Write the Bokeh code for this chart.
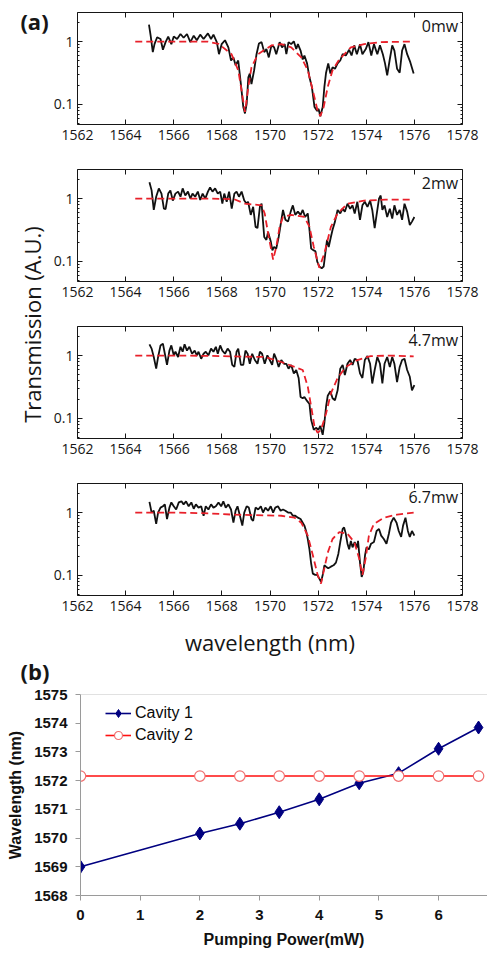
import math
from bokeh.plotting import figure
from bokeh.layouts import column, row
from bokeh.models import (Range1d, Label, LinearAxis, LogAxis, FixedTicker,
                          Legend, LegendItem, Span, CustomJSTickFormatter)
from bokeh.embed import file_html
from bokeh.resources import INLINE

# ---------------- panel (a): transmission spectra ----------------
wl_0mw = [1564.97, 1565.04, 1565.13, 1565.2, 1565.31, 1565.45, 1565.55, 1565.66, 1565.77, 1565.9,
          1566.0, 1566.14, 1566.28, 1566.41, 1566.55, 1566.69, 1566.83, 1566.96, 1567.1, 1567.24,
          1567.42, 1567.55, 1567.65, 1567.79, 1567.88, 1567.99, 1568.13, 1568.27, 1568.38, 1568.48,
          1568.57, 1568.68, 1568.79, 1568.89, 1568.96, 1569.03, 1569.1, 1569.16, 1569.23, 1569.34,
          1569.44, 1569.54, 1569.65, 1569.76, 1569.85, 1569.95, 1570.06, 1570.17, 1570.26, 1570.4,
          1570.5, 1570.61, 1570.68, 1570.77, 1570.88, 1570.99, 1571.09, 1571.16, 1571.27, 1571.36,
          1571.43, 1571.54, 1571.64, 1571.74, 1571.85, 1571.96, 1572.02, 1572.09, 1572.19, 1572.26,
          1572.33, 1572.42, 1572.51, 1572.6, 1572.7, 1572.81, 1572.92, 1573.02, 1573.15, 1573.29,
          1573.39, 1573.5, 1573.61, 1573.74, 1573.84, 1573.98, 1574.09, 1574.21, 1574.32, 1574.46,
          1574.57, 1574.69, 1574.78, 1574.87, 1574.97, 1575.08, 1575.17, 1575.28, 1575.39, 1575.49,
          1575.59, 1575.7, 1575.83, 1575.97]
tr_0mw = [1.86, 1.24, 0.68, 0.91, 1.17, 1.10, 0.74, 0.98, 1.20, 0.91,
          1.20, 1.10, 1.32, 1.15, 1.32, 0.98, 1.24, 1.05, 1.29, 1.10,
          1.35, 1.10, 1.29, 0.98, 0.63, 0.91, 1.05, 0.81, 0.50, 0.56,
          0.42, 0.50, 0.21, 0.091, 0.072, 0.102, 0.27, 0.31, 0.21, 0.35,
          0.63, 0.93, 0.98, 0.68, 0.76, 0.56, 0.87, 0.81, 0.63, 0.98,
          0.81, 0.91, 0.63, 0.98, 0.91, 1.01, 0.76, 0.91, 0.72, 0.52,
          0.60, 0.45, 0.27, 0.19, 0.091, 0.079, 0.085, 0.065, 0.091, 0.19,
          0.32, 0.45, 0.31, 0.39, 0.37, 0.45, 0.50, 0.63, 0.60, 0.74,
          0.60, 0.87, 0.63, 0.91, 0.63, 0.76, 0.98, 0.60, 0.91, 0.63,
          0.87, 0.63, 0.45, 0.29, 0.50, 0.87, 0.72, 0.37, 0.32, 0.72,
          0.91, 0.63, 0.47, 0.31]
fit_wl_0mw = [1564.4, 1565.5, 1566.5, 1567.4, 1567.86, 1568.4, 1568.68, 1568.82, 1568.96, 1569.1,
              1569.23, 1569.5, 1570.06, 1570.47, 1570.88, 1571.3, 1571.57, 1571.78, 1571.98, 1572.09,
              1572.23, 1572.4, 1572.6, 1572.88, 1573.36, 1573.91, 1574.6, 1575.83]
fit_tr_0mw = [1.0, 1.0, 1.0, 1.0, 0.92, 0.63, 0.35, 0.166, 0.076, 0.19,
              0.39, 0.63, 0.87, 0.91, 0.81, 0.56, 0.35, 0.166, 0.079, 0.065,
              0.091, 0.19, 0.35, 0.52, 0.81, 0.91, 0.98, 1.0]

wl_2mw = [1564.99, 1565.08, 1565.17, 1565.27, 1565.38, 1565.49, 1565.59, 1565.66, 1565.77, 1565.86,
          1565.96, 1566.07, 1566.18, 1566.28, 1566.37, 1566.48, 1566.59, 1566.69, 1566.78, 1566.89,
          1567.0, 1567.1, 1567.2, 1567.31, 1567.42, 1567.51, 1567.61, 1567.72, 1567.83, 1567.93,
          1568.02, 1568.1, 1568.2, 1568.3, 1568.41, 1568.52, 1568.61, 1568.71, 1568.82, 1568.93,
          1569.03, 1569.09, 1569.2, 1569.3, 1569.4, 1569.48, 1569.58, 1569.65, 1569.76, 1569.85,
          1569.92, 1570.03, 1570.1, 1570.17, 1570.26, 1570.36, 1570.44, 1570.54, 1570.64, 1570.75,
          1570.86, 1570.95, 1571.05, 1571.16, 1571.27, 1571.36, 1571.46, 1571.57, 1571.64, 1571.71,
          1571.82, 1571.89, 1571.96, 1572.05, 1572.15, 1572.23, 1572.3, 1572.37, 1572.44, 1572.53,
          1572.6, 1572.7, 1572.81, 1572.92, 1573.02, 1573.11, 1573.22, 1573.33, 1573.43, 1573.52,
          1573.63, 1573.74, 1573.84, 1573.94, 1574.05, 1574.16, 1574.25, 1574.35, 1574.43, 1574.53,
          1574.6, 1574.67, 1574.76, 1574.87, 1574.98, 1575.08, 1575.17, 1575.28, 1575.39, 1575.49,
          1575.59, 1575.7, 1575.81, 1575.9, 1576.0]
tr_2mw = [1.82, 1.35, 0.66, 1.07, 1.45, 1.20, 0.69, 0.68, 1.20, 1.35,
          0.93, 1.20, 1.29, 1.07, 1.45, 1.12, 1.29, 1.00, 1.20, 1.07,
          1.29, 0.95, 1.20, 1.00, 1.29, 1.51, 1.29, 1.45, 1.20, 1.29,
          0.83, 1.20, 0.89, 1.29, 0.69, 1.20, 1.29, 1.07, 1.29, 0.93,
          0.83, 0.89, 0.55, 0.74, 0.355, 0.34, 0.74, 0.83, 0.245, 0.22,
          0.295, 0.21, 0.15, 0.17, 0.16, 0.245, 0.38, 0.66, 0.46, 0.43,
          0.62, 0.78, 0.55, 0.62, 0.55, 0.66, 0.51, 0.58, 0.32, 0.16,
          0.15, 0.145, 0.10, 0.083, 0.078, 0.083, 0.135, 0.22, 0.17, 0.245,
          0.32, 0.43, 0.66, 0.58, 0.69, 0.62, 0.83, 0.69, 0.78, 0.58,
          0.89, 0.46, 0.78, 0.89, 0.74, 0.93, 0.66, 0.34, 0.55, 1.00,
          1.12, 0.66, 0.78, 0.51, 0.69, 0.48, 0.78, 0.55, 0.66, 0.46,
          0.83, 0.62, 0.38, 0.43, 0.51]
fit_wl_2mw = [1564.4, 1565.5, 1566.5, 1567.5, 1568.5, 1568.96, 1569.65, 1569.78, 1569.92, 1570.13,
              1570.26, 1570.4, 1570.54, 1570.88, 1571.43, 1571.64, 1571.82, 1572.05, 1572.26, 1572.53,
              1572.81, 1573.22, 1573.91, 1574.8, 1575.9]
fit_tr_2mw = [1.0, 1.0, 1.0, 1.0, 0.98, 0.83, 0.78, 0.58, 0.28, 0.107,
              0.17, 0.355, 0.51, 0.55, 0.51, 0.355, 0.17, 0.079, 0.135, 0.355,
              0.58, 0.83, 0.93, 0.96, 0.96]

wl_4p7mw = [1564.99, 1565.08, 1565.17, 1565.27, 1565.35, 1565.45, 1565.55, 1565.63, 1565.72, 1565.82,
            1565.9, 1566.0, 1566.07, 1566.18, 1566.28, 1566.37, 1566.45, 1566.55, 1566.65, 1566.76,
            1566.87, 1566.96, 1567.03, 1567.14, 1567.24, 1567.33, 1567.44, 1567.55, 1567.65, 1567.75,
            1567.83, 1567.93, 1568.02, 1568.13, 1568.24, 1568.34, 1568.43, 1568.52, 1568.61, 1568.68,
            1568.79, 1568.89, 1568.98, 1569.07, 1569.16, 1569.26, 1569.37, 1569.48, 1569.58, 1569.67,
            1569.78, 1569.89, 1569.99, 1570.09, 1570.17, 1570.26, 1570.36, 1570.47, 1570.58, 1570.68,
            1570.77, 1570.88, 1570.99, 1571.09, 1571.19, 1571.27, 1571.36, 1571.43, 1571.54, 1571.64,
            1571.71, 1571.82, 1571.91, 1572.01, 1572.09, 1572.19, 1572.26, 1572.33, 1572.4, 1572.51,
            1572.6, 1572.7, 1572.81, 1572.92, 1573.02, 1573.11, 1573.22, 1573.33, 1573.43, 1573.52,
            1573.63, 1573.74, 1573.84, 1573.94, 1574.05, 1574.16, 1574.25, 1574.35, 1574.46, 1574.57,
            1574.67, 1574.76, 1574.87, 1574.98, 1575.08, 1575.17, 1575.28, 1575.39, 1575.49, 1575.59,
            1575.7, 1575.81, 1575.9, 1576.0]
tr_4p7mw = [1.51, 1.29, 0.95, 0.62, 0.95, 1.45, 1.55, 1.07, 0.71, 1.20,
            1.45, 1.01, 1.15, 0.95, 1.38, 1.15, 1.51, 1.20, 1.38, 1.07,
            1.20, 1.01, 1.15, 0.89, 1.07, 1.15, 1.01, 1.29, 1.15, 1.38,
            1.07, 1.45, 1.20, 1.07, 1.29, 1.15, 0.71, 0.66, 1.15, 1.29,
            0.71, 0.71, 1.20, 1.07, 0.74, 1.07, 0.85, 0.74, 1.15, 1.07,
            0.74, 1.01, 0.85, 0.71, 1.07, 0.89, 0.66, 0.85, 0.74, 0.74,
            0.62, 0.71, 0.52, 0.59, 0.44, 0.22, 0.21, 0.22, 0.19, 0.17,
            0.095, 0.066, 0.071, 0.066, 0.076, 0.055, 0.085, 0.155, 0.23, 0.27,
            0.21, 0.195, 0.28, 0.62, 0.71, 0.49, 0.74, 0.85, 0.71, 0.89,
            0.85, 0.52, 0.44, 0.85, 0.98, 0.74, 0.36, 0.59, 0.95, 0.74,
            0.36, 0.74, 0.95, 0.66, 0.95, 0.74, 0.38, 0.66, 0.85, 0.89,
            0.59, 0.46, 0.28, 0.34]
fit_wl_4p7mw = [1564.4, 1566.0, 1567.5, 1568.4, 1569.78, 1570.47, 1571.02, 1571.36, 1571.57, 1571.71,
                1571.85, 1571.98, 1572.12, 1572.33, 1572.53, 1572.81, 1573.15, 1573.63, 1574.18, 1575.0,
                1575.97]
fit_tr_4p7mw = [1.0, 1.0, 0.99, 0.97, 0.95, 0.79, 0.66, 0.59, 0.32, 0.155,
                0.074, 0.059, 0.066, 0.12, 0.25, 0.44, 0.66, 0.85, 0.98, 1.0,
                0.97]

wl_6p7mw = [1564.99, 1565.08, 1565.17, 1565.27, 1565.35, 1565.45, 1565.55, 1565.63, 1565.72, 1565.82,
            1565.9, 1566.0, 1566.1, 1566.21, 1566.32, 1566.41, 1566.51, 1566.62, 1566.73, 1566.83,
            1566.92, 1567.03, 1567.14, 1567.24, 1567.33, 1567.44, 1567.55, 1567.65, 1567.75, 1567.86,
            1567.97, 1568.06, 1568.16, 1568.27, 1568.38, 1568.48, 1568.57, 1568.65, 1568.75, 1568.85,
            1568.93, 1569.03, 1569.12, 1569.23, 1569.3, 1569.4, 1569.51, 1569.62, 1569.71, 1569.81,
            1569.92, 1570.03, 1570.13, 1570.22, 1570.33, 1570.44, 1570.54, 1570.64, 1570.75, 1570.86,
            1570.95, 1571.05, 1571.16, 1571.27, 1571.36, 1571.43, 1571.5, 1571.57, 1571.64, 1571.71,
            1571.78, 1571.88, 1571.96, 1572.05, 1572.12, 1572.19, 1572.26, 1572.33, 1572.42, 1572.53,
            1572.64, 1572.74, 1572.84, 1572.92, 1573.02, 1573.08, 1573.15, 1573.22, 1573.29, 1573.36,
            1573.43, 1573.52, 1573.61, 1573.66, 1573.74, 1573.81, 1573.88, 1573.95, 1574.01, 1574.11,
            1574.2, 1574.32, 1574.43, 1574.53, 1574.62, 1574.73, 1574.84, 1574.94, 1575.03, 1575.14,
            1575.26, 1575.35, 1575.45, 1575.53, 1575.63, 1575.73, 1575.81, 1575.9, 1576.0]
tr_6p7mw = [1.48, 1.00, 1.07, 0.66, 1.00, 1.20, 1.26, 1.35, 0.79, 1.20,
            1.45, 1.26, 1.12, 1.45, 1.51, 1.35, 1.51, 1.26, 1.45, 1.15,
            1.35, 1.20, 1.26, 0.89, 1.26, 1.12, 1.35, 1.20, 1.26, 1.45,
            1.26, 1.51, 1.20, 1.35, 1.12, 0.69, 1.07, 1.26, 0.89, 0.62,
            1.00, 1.26, 1.20, 0.79, 0.74, 1.20, 1.12, 1.26, 1.00, 1.20,
            1.07, 1.26, 1.00, 1.20, 1.26, 1.07, 1.12, 1.07, 1.00, 1.00,
            0.89, 0.89, 0.83, 0.79, 0.69, 0.62, 0.51, 0.38, 0.26, 0.155,
            0.107, 0.102, 0.102, 0.089, 0.079, 0.102, 0.145, 0.138, 0.13, 0.138,
            0.145, 0.16, 0.22, 0.34, 0.55, 0.58, 0.46, 0.32, 0.26, 0.355,
            0.28, 0.34, 0.28, 0.355, 0.16, 0.095, 0.115, 0.21, 0.28, 0.26,
            0.32, 0.34, 0.51, 0.55, 0.43, 0.38, 0.32, 0.46, 0.69, 0.83,
            0.69, 0.51, 0.41, 0.62, 0.83, 0.51, 0.41, 0.51, 0.43]
fit_wl_6p7mw = [1564.4, 1566.0, 1567.5, 1568.41, 1570.47, 1571.02, 1571.3, 1571.57, 1571.78, 1571.98,
                1572.12, 1572.26, 1572.4, 1572.6, 1572.88, 1573.22, 1573.5, 1573.7, 1573.84, 1573.98,
                1574.11, 1574.32, 1574.73, 1575.28, 1575.97]
fit_tr_6p7mw = [1.0, 1.0, 0.97, 0.93, 0.89, 0.83, 0.69, 0.43, 0.21, 0.102,
                0.074, 0.13, 0.23, 0.38, 0.49, 0.46, 0.34, 0.19, 0.102, 0.19,
                0.43, 0.66, 0.83, 0.93, 1.0]

power_tags = ["0mw", "2mw", "4.7mw", "6.7mw"]
wl_ticks = [1562, 1564, 1566, 1568, 1570, 1572, 1574, 1576, 1578]
tr_major_ticks = [0.1, 1]
tr_minor_ticks = [0.05, 0.06, 0.07, 0.08, 0.09, 0.2, 0.3, 0.4, 0.5, 0.6, 0.7, 0.8, 0.9, 2]

# ---------------- panel (b): resonance vs pump power ----------------
pump_mw = [0, 2, 2.67, 3.33, 4, 4.67, 5.33, 6, 6.67]
cavity1_nm = [1569.0, 1570.16, 1570.5, 1570.9, 1571.35, 1571.91, 1572.26, 1573.11, 1573.85]
cavity2_nm = [1572.16, 1572.16, 1572.16, 1572.16, 1572.16, 1572.16, 1572.16, 1572.16, 1572.16]
pump_ticks = [0, 1, 2, 3, 4, 5, 6]
wl_ticks_b = [1568, 1569, 1570, 1571, 1572, 1573, 1574, 1575]

SANS = "Open Sans"
ARIAL = "Liberation Sans"
INK = "#161616"
BLANK = CustomJSTickFormatter(code="return ''")

SIDE_W = 50
TOP_H = 684


def spectrum_panel(wl, tr, fwl, ftr, tag, height, top_border, bottom, xlabel=None):
    p = figure(width=487 - SIDE_W, height=height, x_range=Range1d(1562, 1578),
               y_range=Range1d(0.048, 2.9), y_axis_type="log",
               output_backend="svg", toolbar_location=None,
               min_border_left=24, min_border_right=25, min_border_top=top_border,
               min_border_bottom=bottom)
    p.grid.visible = False
    p.outline_line_color = INK
    p.outline_line_width = 1
    p.background_fill_color = "white"
    p.border_fill_color = "white"

    xa = p.xaxis[0]
    xa.ticker = FixedTicker(ticks=wl_ticks)
    xa.axis_line_color = None
    xa.major_tick_in = 5
    xa.major_tick_out = 0
    xa.minor_tick_in = 0
    xa.minor_tick_out = 0
    xa.major_tick_line_color = INK
    xa.major_label_text_font = SANS
    xa.major_label_text_font_size = "14px"
    xa.major_label_text_color = INK
    xa.major_label_standoff = 5
    if xlabel:
        xa.axis_label = xlabel
        xa.axis_label_text_font = SANS
        xa.axis_label_text_font_size = "22px"
        xa.axis_label_text_font_style = "normal"
        xa.axis_label_text_color = INK
        xa.axis_label_standoff = 13

    ya = p.yaxis[0]
    ya.ticker = FixedTicker(ticks=tr_major_ticks, minor_ticks=tr_minor_ticks)
    ya.major_label_overrides = {0.1: "0.1", 1: "1"}
    ya.axis_line_color = None
    ya.major_tick_in = 5
    ya.major_tick_out = 0
    ya.minor_tick_in = 2
    ya.minor_tick_out = 0
    ya.major_tick_line_color = INK
    ya.minor_tick_line_color = INK
    ya.major_label_text_font = SANS
    ya.major_label_text_font_size = "14px"
    ya.major_label_text_color = INK
    ya.major_label_standoff = 4

    top = LinearAxis(ticker=FixedTicker(ticks=wl_ticks), formatter=BLANK,
                     axis_line_color=None, major_tick_in=5, major_tick_out=0,
                     minor_tick_in=0, minor_tick_out=0, major_tick_line_color=INK,
                     major_label_standoff=0)
    p.add_layout(top, "above")
    right = LogAxis(ticker=FixedTicker(ticks=tr_major_ticks, minor_ticks=tr_minor_ticks),
                    formatter=BLANK, axis_line_color=None, major_tick_in=5,
                    major_tick_out=0, minor_tick_in=2, minor_tick_out=0,
                    major_tick_line_color=INK, minor_tick_line_color=INK,
                    major_label_standoff=0)
    p.add_layout(right, "right")

    p.line(wl, tr, line_color="#111111", line_width=1.8)
    p.line(fwl, ftr, line_color="#e8202a", line_width=1.8, line_dash="7 4")

    p.add_layout(Label(x=1577.82, y=1.75, text=tag, text_align="right",
                       text_baseline="middle", text_font=SANS,
                       text_font_size="16px", text_color=INK))
    return p


a1 = spectrum_panel(wl_0mw, tr_0mw, fit_wl_0mw, fit_tr_0mw, power_tags[0], 161, 12, 37)
a2 = spectrum_panel(wl_2mw, tr_2mw, fit_wl_2mw, fit_tr_2mw, power_tags[1], 157, 8, 37)
a3 = spectrum_panel(wl_4p7mw, tr_4p7mw, fit_wl_4p7mw, fit_tr_4p7mw, power_tags[2], 157, 8, 37)
a4 = spectrum_panel(wl_6p7mw, tr_6p7mw, fit_wl_6p7mw, fit_tr_6p7mw, power_tags[3],
                    TOP_H - 161 - 157 - 157, 8, TOP_H - 161 - 157 - 157 - 120,
                    xlabel="wavelength (nm)")

# side strip: shared y label, "(a)" and "(b)" tags
side = figure(width=SIDE_W, height=TOP_H, x_range=Range1d(0, SIDE_W), y_range=Range1d(0, TOP_H),
              x_axis_location=None, y_axis_location=None, output_backend="svg",
              toolbar_location=None, min_border=0)
side.outline_line_color = None
side.grid.visible = False
side.add_layout(Label(x=31, y=TOP_H - 324, text="Transmission (A.U.)", angle=math.pi / 2,
                      text_align="center", text_baseline="middle", text_font=SANS,
                      text_font_size="22px", text_color=INK))
side.add_layout(Label(x=34, y=TOP_H - 20, text="(a)", text_align="center",
                      text_baseline="middle", text_font=SANS, text_font_style="bold",
                      text_font_size="22px", text_color=INK))
side.add_layout(Label(x=34.5, y=TOP_H - 670, text="(b)", text_align="center",
                      text_baseline="middle", text_font=SANS, text_font_style="bold",
                      text_font_size="22px", text_color=INK))

# ---------------- panel (b) ----------------
pb = figure(width=487, height=960 - TOP_H, x_range=Range1d(0, 6.82), y_range=Range1d(1568, 1575),
            output_backend="svg", toolbar_location=None,
            min_border_left=80, min_border_right=0, min_border_top=10,
            min_border_bottom=960 - TOP_H - 10 - 201)
pb.outline_line_color = None
pb.grid.visible = False
pb.background_fill_color = "white"
pb.border_fill_color = "white"

GRAY = "#9a9a9a"
bx = pb.xaxis[0]
bx.ticker = FixedTicker(ticks=pump_ticks)
bx.axis_line_color = GRAY
bx.major_tick_line_color = GRAY
bx.major_tick_in = 0
bx.major_tick_out = 5
bx.minor_tick_in = 0
bx.minor_tick_out = 0
bx.major_label_text_font = ARIAL
bx.major_label_text_font_style = "bold"
bx.major_label_text_font_size = "15px"
bx.major_label_text_color = "#111111"
bx.major_label_standoff = 9
bx.axis_label = "Pumping Power(mW)"
bx.axis_label_text_font = ARIAL
bx.axis_label_text_font_style = "bold"
bx.axis_label_text_font_size = "16px"
bx.axis_label_text_color = "#111111"
bx.axis_label_standoff = 8

by = pb.yaxis[0]
by.ticker = FixedTicker(ticks=wl_ticks_b)
by.axis_line_color = GRAY
by.major_tick_line_color = GRAY
by.major_tick_in = 0
by.major_tick_out = 5
by.minor_tick_in = 0
by.minor_tick_out = 0
by.major_label_text_font = ARIAL
by.major_label_text_font_style = "bold"
by.major_label_text_font_size = "15px"
by.major_label_text_color = "#111111"
by.major_label_standoff = 8
by.axis_label = "Wavelength (nm)"
by.axis_label_text_font = ARIAL
by.axis_label_text_font_style = "bold"
by.axis_label_text_font_size = "16px"
by.axis_label_text_color = "#111111"
by.axis_label_standoff = 7

pb.add_layout(Span(location=wl_ticks_b[-1], dimension="width",
                   line_color="#c4c4c4", line_width=1))

l1 = pb.line(pump_mw, cavity1_nm, line_color="#000080", line_width=1.6)
s1 = pb.scatter(pump_mw, cavity1_nm, marker="diamond", size=13,
                fill_color="#000080", line_color="#000080")
l2 = pb.line(pump_mw, cavity2_nm, line_color="#ff1010", line_width=1.6)
s2 = pb.scatter(pump_mw, cavity2_nm, marker="circle", size=10.5,
                fill_color="white", line_color="#f07070", line_width=1.2)

legend = Legend(items=[LegendItem(label="Cavity 1", renderers=[l1, s1]),
                       LegendItem(label="Cavity 2", renderers=[l2, s2])],
                location=(25, 150), margin=0, padding=0, spacing=2,
                glyph_width=26, glyph_height=20, label_height=20, label_standoff=4,
                label_text_font=ARIAL, label_text_font_size="16px",
                label_text_color="#0a0a0a", border_line_color=None,
                background_fill_alpha=0)
pb.add_layout(legend)

layout = column(row(side, column(a1, a2, a3, a4, spacing=0), spacing=0), pb, spacing=0)

open("out.html", "w").write(file_html(layout, INLINE))
